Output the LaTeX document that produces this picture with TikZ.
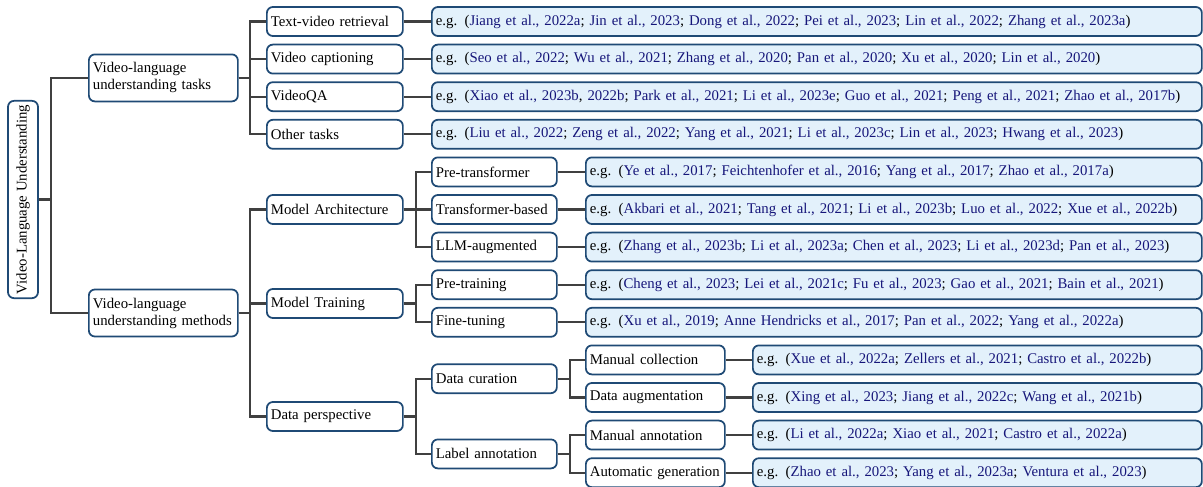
\documentclass[tikz,border=0pt]{standalone}
\usepackage{fontspec}
\setmainfont{Liberation Serif}
\usetikzlibrary{calc}
\definecolor{boxblue}{HTML}{1F4A75}
\definecolor{leaffill}{HTML}{E3F1FB}
\definecolor{citeblue}{HTML}{16167A}
\definecolor{linegray}{HTML}{404040}
\newcommand{\ct}[1]{\textcolor{citeblue}{#1}}
\begin{document}
\begin{tikzpicture}[x=0.75pt,y=-0.75pt,
  base/.style={draw=boxblue,line width=1.3pt,rounded corners=4.5pt,font=\fontsize{11.1}{12.75}\selectfont,
    inner xsep=3pt,inner ysep=1pt,align=left,anchor=west,minimum height=21.75pt},
  lvlone/.style={base,text width=105.75pt,minimum height=35.25pt},
  lvltwo/.style={base,text width=96pt},
  lvlthree/.style={base,text width=87.75pt},
  lvlfour/.style={base,text width=98.25pt},
  leafa/.style={base,fill=leaffill,text width=571.5pt},
  leafb/.style={base,fill=leaffill,text width=456pt},
  leafc/.style={base,fill=leaffill,text width=330.75pt},
  rootbox/.style={draw=boxblue,line width=1.3pt,rounded corners=4.5pt,font=\fontsize{11.1}{12.75}\selectfont,
    rotate=90,minimum width=148pt,minimum height=22.5pt,inner sep=1pt},
  conn/.style={draw=linegray,line width=1.6pt}
]
\useasboundingbox (0,0) rectangle (1203,486);
% rows
\def\rA{21.5}\def\rB{59.1}\def\rC{96.7}\def\rD{134.3}\def\rE{171.9}\def\rF{209.5}\def\rG{247.1}
\def\rH{284.7}\def\rI{322.3}\def\rJ{359.9}\def\rK{397.5}\def\rL{435.1}\def\rM{472.7}

\node[rootbox] (root) at (23,199.5) {Video-Language Understanding};

\node[lvlone] (tasks) at (88,77.9) {Video-language\\understanding tasks};
\node[lvlone] (methods) at (88,313) {Video-language\\understanding methods};

\node[lvltwo] (tvr) at (266,\rA) {Text-video retrieval};
\node[lvltwo] (vc) at (266,\rB) {Video captioning};
\node[lvltwo] (vqa) at (266,\rC) {VideoQA};
\node[lvltwo] (ot) at (266,\rD) {Other tasks};

\node[leafa] (ltvr) at (431,\rA) {e.g. (\ct{Jiang et al., 2022a}; \ct{Jin et al., 2023}; \ct{Dong et al., 2022}; \ct{Pei et al., 2023}; \ct{Lin et al., 2022}; \ct{Zhang et al., 2023a})};
\node[leafa] (lvc) at (431,\rB) {e.g. (\ct{Seo et al., 2022}; \ct{Wu et al., 2021}; \ct{Zhang et al., 2020}; \ct{Pan et al., 2020}; \ct{Xu et al., 2020}; \ct{Lin et al., 2020})};
\node[leafa] (lvqa) at (431,\rC) {e.g. (\ct{Xiao et al., 2023b}, \ct{2022b}; \ct{Park et al., 2021}; \ct{Li et al., 2023e}; \ct{Guo et al., 2021}; \ct{Peng et al., 2021}; \ct{Zhao et al., 2017b})};
\node[leafa] (lot) at (431,\rD) {e.g. (\ct{Liu et al., 2022}; \ct{Zeng et al., 2022}; \ct{Yang et al., 2021}; \ct{Li et al., 2023c}; \ct{Lin et al., 2023}; \ct{Hwang et al., 2023})};

\node[lvltwo] (arch) at (266,\rF) {Model Architecture};
\node[lvltwo] (train) at (266,{(\rH+\rI)/2}) {Model Training};
\node[lvltwo] (data) at (266,416.5) {Data perspective};

\node[lvlthree] (pret) at (431,\rE) {Pre-transformer};
\node[lvlthree] (trb) at (431,\rF) {Transformer-based};
\node[lvlthree] (llm) at (431,\rG) {LLM-augmented};
\node[lvlthree] (ptr) at (431,\rH) {Pre-training};
\node[lvlthree] (ft) at (431,\rI) {Fine-tuning};
\node[lvlthree] (cur) at (431,{(\rJ+\rK)/2}) {Data curation};
\node[lvlthree] (ann) at (431,{(\rL+\rM)/2}) {Label annotation};

\node[leafb] (lpret) at (585,\rE) {e.g. (\ct{Ye et al., 2017}; \ct{Feichtenhofer et al., 2016}; \ct{Yang et al., 2017}; \ct{Zhao et al., 2017a})};
\node[leafb] (ltrb) at (585,\rF) {e.g. (\ct{Akbari et al., 2021}; \ct{Tang et al., 2021}; \ct{Li et al., 2023b}; \ct{Luo et al., 2022}; \ct{Xue et al., 2022b})};
\node[leafb] (lllm) at (585,\rG) {e.g. (\ct{Zhang et al., 2023b}; \ct{Li et al., 2023a}; \ct{Chen et al., 2023}; \ct{Li et al., 2023d}; \ct{Pan et al., 2023})};
\node[leafb] (lptr) at (585,\rH) {e.g. (\ct{Cheng et al., 2023}; \ct{Lei et al., 2021c}; \ct{Fu et al., 2023}; \ct{Gao et al., 2021}; \ct{Bain et al., 2021})};
\node[leafb] (lft) at (585,\rI) {e.g. (\ct{Xu et al., 2019}; \ct{Anne Hendricks et al., 2017}; \ct{Pan et al., 2022}; \ct{Yang et al., 2022a})};

\node[lvlfour] (mc) at (585,\rJ) {Manual collection};
\node[lvlfour] (da) at (585,\rK) {Data augmentation};
\node[lvlfour] (ma) at (585,\rL) {Manual annotation};
\node[lvlfour] (ag) at (585,\rM) {Automatic generation};

\node[leafc] (lmc) at (752,\rJ) {e.g. (\ct{Xue et al., 2022a}; \ct{Zellers et al., 2021}; \ct{Castro et al., 2022b})};
\node[leafc] (lda) at (752,\rK) {e.g. (\ct{Xing et al., 2023}; \ct{Jiang et al., 2022c}; \ct{Wang et al., 2021b})};
\node[leafc] (lma) at (752,\rL) {e.g. (\ct{Li et al., 2022a}; \ct{Xiao et al., 2021}; \ct{Castro et al., 2022a})};
\node[leafc] (lag) at (752,\rM) {e.g. (\ct{Zhao et al., 2023}; \ct{Yang et al., 2023a}; \ct{Ventura et al., 2023})};

% connectors
\foreach \c in {tasks,methods}
  \draw[conn] (root.south) -- ++(12,0) |- (\c.west);
\foreach \p/\c in {tasks/tvr,tasks/vc,tasks/vqa,tasks/ot,methods/arch,methods/train,methods/data}
  \draw[conn] (\p.east) -- ++(11,0) |- (\c.west);
\foreach \p/\c in {arch/pret,arch/trb,arch/llm,train/ptr,train/ft,data/cur,data/ann}
  \draw[conn] (\p.east) -- ++(12,0) |- (\c.west);
\foreach \p/\c in {cur/mc,cur/da,ann/ma,ann/ag}
  \draw[conn] (\p.east) -- ++(12,0) |- (\c.west);
\foreach \p/\c in {tvr/ltvr,vc/lvc,vqa/lvqa,ot/lot,pret/lpret,trb/ltrb,llm/lllm,ptr/lptr,ft/lft,mc/lmc,da/lda,ma/lma,ag/lag}
  \draw[conn] (\p.east) -- (\c.west);
\end{tikzpicture}
\end{document}
